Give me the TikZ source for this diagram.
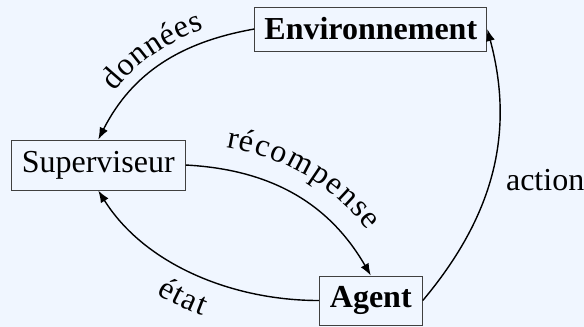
\documentclass[tikz,border=0pt]{standalone}
\usepackage{fontspec}
\setmainfont{Liberation Serif}
\usetikzlibrary{arrows.meta,decorations.text}
\definecolor{bgcol}{RGB}{240,246,255}
\newcommand\lblfont{\fontsize{16}{19}\selectfont}
\begin{document}
\begin{tikzpicture}[every node/.style={font=\lblfont},
  box/.style={draw=black!75,line width=0.5pt,fill=bgcol,inner sep=0pt},
  flow/.style={line width=0.7pt,-{Latex[length=6pt,width=4.5pt]}},
  flowback/.style={line width=0.7pt,{Latex[length=6pt,width=4.5pt]}-}]
  \fill[bgcol] (0,0) rectangle (10.263,-5.746);
  \useasboundingbox (0,0) rectangle (10.263,-5.746);
  \node[box,minimum width=116pt,minimum height=22pt] (env) at (6.516,-0.510) {\textbf{Environnement}};
  \node[box,minimum width=87pt,minimum height=25pt] (sup) at (1.727,-2.900) {Superviseur};
  \node[box,minimum width=51.5pt,minimum height=24.5pt] (agent) at (6.516,-5.281) {\textbf{Agent}};
  \node (act) at (9.580,-3.163) {action};
  % donnees: env -> sup
  \draw[flowback,postaction={decorate,decoration={text along path,text align=center,
      raise=6pt,text={|\lblfont|données}}}] (sup.north) to[out=63,in=190] (env.west);
  % recompense: sup -> agent
  \draw[flow,postaction={decorate,decoration={text along path,text align=center,
      raise=11pt,text={|\lblfont|récompense}}}] (sup.east) to[out=-3,in=120] (agent.north);
  % etat: agent -> sup
  \draw[flowback,postaction={decorate,decoration={text along path,text align=center,
      raise=-18pt,text={|\lblfont|état}}}] (sup.south) to[out=-58,in=180,looseness=0.9] (agent.west);
  % action: agent -> env
  \draw[flow] (agent.east) to[out=50,in=-75] (env.east);
\end{tikzpicture}
\end{document}
